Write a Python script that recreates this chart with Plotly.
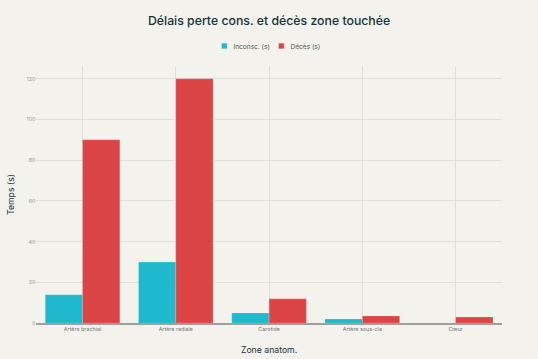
import plotly.graph_objects as go

zones = ["Artère brachial", "Artère radiale", "Carotide", "Artère sous-cla", "Cœur"]
inconsc = [14, 30, 5, 2, 0]
deces = [90, 120, 12, 3.5, 3]

K = 2.2  # render at K times size, then scale down to 538x359
W, H = 538, 359

fig = go.Figure()
fig.add_trace(go.Bar(name="Inconsc. (s)", x=zones, y=inconsc, marker_color="#1FB8CD"))
fig.add_trace(go.Bar(name="Décès (s)", x=zones, y=deces, marker_color="#DB4545"))

fam = "Inter, Liberation Sans, Arial"
fig.update_layout(
    width=round(W * K), height=round(H * K),
    barmode="group", bargap=0.2, bargroupgap=0,
    paper_bgcolor="#F3F2EC", plot_bgcolor="#F3F2EC",
    font=dict(family=fam, color="#13343B"),
    title=dict(text="Délais perte cons. et décès zone touchée", x=0.5, xanchor="center",
               yref="container", y=1 - 21 / H, yanchor="middle",
               font=dict(size=12.3 * K, color="#13343B", weight=500)),
    legend=dict(orientation="h", x=0.5, xanchor="center", yref="container", y=1 - 46 / H,
                yanchor="middle", font=dict(size=6.6 * K, color="#4a5a60")),
    margin=dict(l=36 * K, r=36 * K, t=66 * K, b=36 * K),
    xaxis=dict(title=dict(text="Zone anatom.", font=dict(size=8.7 * K, color="#13343B"), standoff=15 * K),
               tickfont=dict(size=5.4 * K, color="#777"), automargin=False,
               showgrid=True, gridcolor="#DEDDD8", gridwidth=K,
               showline=True, linecolor="#A0A09C", linewidth=1.6 * K),
    yaxis=dict(title=dict(text="Temps (s)", font=dict(size=8.7 * K, color="#13343B"), standoff=10 * K),
               tickfont=dict(size=5.4 * K, color="#999"), automargin=False,
               range=[0, 126.3], dtick=20, gridcolor="#DEDDD8", gridwidth=K,
               zeroline=False, showline=False),
)

post = (
    "document.body.style.margin='0';document.body.style.overflow='hidden';"
    "var d=document.getElementById('{plot_id}');"
    "d.style.transformOrigin='0 0';d.style.transform='scale(%f)';" % (1 / K)
)
fig.write_html("out.html", post_script=post, config={"displayModeBar": False})
